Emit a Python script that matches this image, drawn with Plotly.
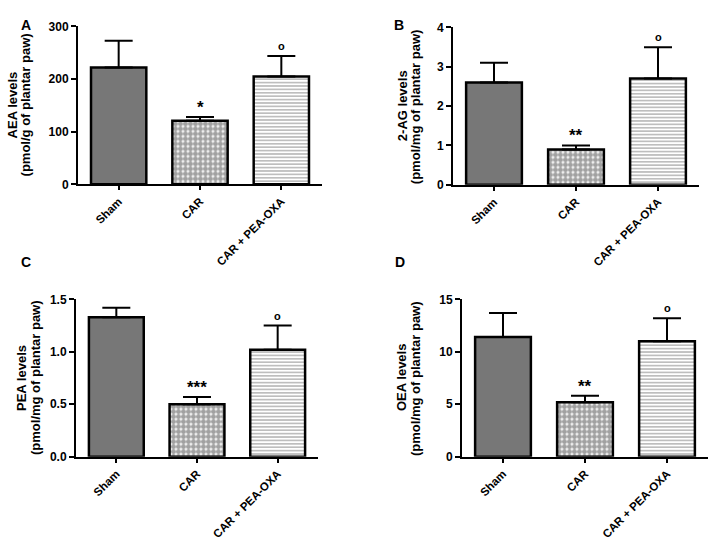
import plotly.graph_objects as go

W, H = 712, 547

categories = ["Sham", "CAR", "CAR + PEA-OXA"]

aea_mean = [222, 121, 205]
aea_err_top = [273, 128, 244]
tg_mean = [2.6, 0.9, 2.7]
tg_err_top = [3.1, 1.0, 3.5]
pea_mean = [1.33, 0.50, 1.02]
pea_err_top = [1.42, 0.57, 1.25]
oea_mean = [11.4, 5.2, 11.0]
oea_err_top = [13.7, 5.8, 13.2]

sig_aea = ["", "*", "o"]
sig_tg = ["", "**", "o"]
sig_pea = ["", "***", "o"]
sig_oea = ["", "**", "o"]

panel_letters = ["A", "B", "C", "D"]
y_title_line1 = ["AEA levels", "2-AG levels", "PEA levels", "OEA levels"]
y_title_line2 = ["(pmol/g of plantar paw)", "(pmol/mg of plantar paw)",
                 "(pmol/mg of plantar paw)", "(pmol/mg of plantar paw)"]
y_ranges = [[0, 300], [0, 4], [0, 1.5], [0, 15]]
y_dticks = [100, 1, 0.5, 5]
y_formats = ["d", "d", ".1f", "d"]

panels = [
    (aea_mean, aea_err_top, sig_aea),
    (tg_mean, tg_err_top, sig_tg),
    (pea_mean, pea_err_top, sig_pea),
    (oea_mean, oea_err_top, sig_oea),
]

# pixel boxes of the plot areas: (left, right, top, bottom)
boxes = [(78, 322, 20, 182), (453, 699, 21, 182.5), (76, 318, 300, 461.5), (462, 708, 300, 461.5)]
letter_pos = [(19, 8), (399, 8), (19, 262), (400, 262)]
title_x = [(12, 25), (402, 415), (21, 35), (401, 415)]

FONT = "Liberation Sans, Arial, sans-serif"

fig = go.Figure()
for i, (means, tops, sigs) in enumerate(panels):
    ax = "" if i == 0 else str(i + 1)
    errs = [t - m for t, m in zip(tops, means)]
    fig.add_trace(go.Bar(
        x=categories, y=means,
        xaxis="x" + ax, yaxis="y" + ax,
        width=0.68,
        marker=dict(
            color=["#777777", "#ffffff", "#ffffff"],
            line=dict(color="black", width=2.5),
            pattern=dict(
                shape=["", ".", "-"],
                fgcolor=["#777777", "#000000", "#8a8a8a"],
                bgcolor=["#777777", "#ffffff", "#ffffff"],
                size=[6, 5, 3.4],
                solidity=[0.3, 0.78, 0.35],
                fillmode="overlay",
            ),
        ),
        error_y=dict(type="data", array=errs, arrayminus=[0, 0, 0], symmetric=False,
                     color="black", thickness=2, width=14),
        showlegend=False,
        hoverinfo="skip",
    ))
    l, r, t, b = boxes[i]
    dom_x = [l / W, r / W]
    dom_y = [1 - b / H, 1 - t / H]
    fig.layout["xaxis" + ax] = dict(
        domain=dom_x, anchor="y" + ax, range=[-0.5, 2.5],
        showline=True, linecolor="black", linewidth=2,
        ticks="outside", ticklen=4, tickwidth=1.5, tickcolor="black",
        tickangle=-45, tickfont=dict(family=FONT, size=11.5, color="black", weight="bold"),
        showgrid=False, zeroline=False,
    )
    fig.layout["yaxis" + ax] = dict(
        domain=dom_y, anchor="x" + ax, range=y_ranges[i], dtick=y_dticks[i],
        tickformat=y_formats[i],
        showline=True, linecolor="black", linewidth=2,
        ticks="outside", ticklen=5, tickwidth=1.5, tickcolor="black",
        tickfont=dict(family=FONT, size=12, color="black", weight="bold"),
        showgrid=False, zeroline=False,
    )
    yc = 1 - ((t + b) / 2) / H
    for k, txt in enumerate([y_title_line1[i], y_title_line2[i]]):
        fig.add_annotation(
            x=title_x[i][k] / W, y=yc, xref="paper", yref="paper",
            text=txt, textangle=-90, showarrow=False,
            xanchor="center", yanchor="middle",
            font=dict(family=FONT, size=13, color="black", weight="bold"),
        )
    for j, s in enumerate(sigs):
        if s:
            fig.add_annotation(
                x=categories[j], y=tops[j], xref="x" + ax, yref="y" + ax,
                text=s, showarrow=False, yanchor="bottom",
                yshift=(-2 if s.startswith("*") else 2),
                font=dict(family=FONT, size=(17 if s.startswith("*") else 11), color="black", weight="bold"),
            )
    lx, ly = letter_pos[i]
    fig.add_annotation(
        x=lx / W, y=1 - ly / H, xref="paper", yref="paper",
        text=panel_letters[i], showarrow=False,
        font=dict(family=FONT, size=14, color="black", weight="bold"),
    )

fig.update_layout(
    width=W, height=H,
    margin=dict(l=0, r=0, t=0, b=0),
    plot_bgcolor="white", paper_bgcolor="white",
    bargap=0.3,
)

fig.write_html("out.html", config={"displayModeBar": False},
               post_script="document.body.style.margin='0';")
